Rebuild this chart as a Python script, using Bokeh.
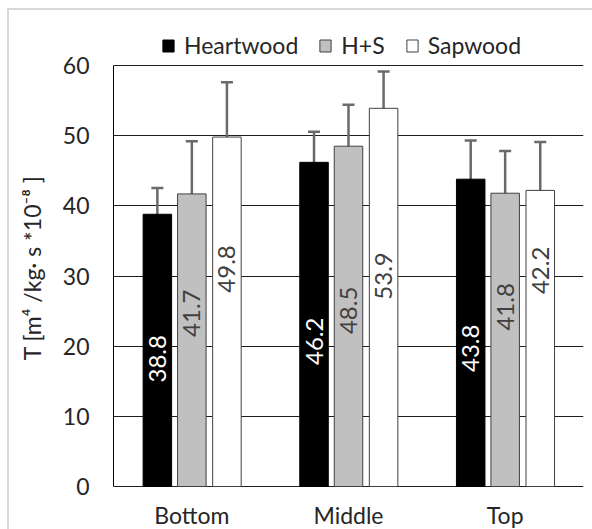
import math
from bokeh.plotting import figure
from bokeh.models import (FactorRange, Range1d, FixedTicker, Whisker, TeeHead,
                          ColumnDataSource, Legend, LegendItem)
from bokeh.transform import dodge
from bokeh.core.properties import value
from bokeh.embed import file_html
from bokeh.resources import INLINE

# ---- data ----
categories = ["Bottom", "Middle", "Top"]
series_names = ["Heartwood", "H+S", "Sapwood"]
heartwood = [38.8, 46.2, 43.8]
hs = [41.7, 48.5, 41.8]
sapwood = [49.8, 53.9, 42.2]
heartwood_err = [3.75, 4.35, 5.5]
hs_err = [7.5, 5.9, 6.0]
sapwood_err = [7.8, 5.25, 6.9]
heartwood_label_y = [18.2, 20.7, 19.7]
hs_label_y = [24.7, 25.1, 25.6]
sapwood_label_y = [31.0, 30.0, 30.8]
y_ticks = [0, 10, 20, 30, 40, 50, 60]
y_axis_title = "T [m\u2074 /kg\u00b7 s  *10\u207b\u2078 ]"

FONT = "Lato"
TXT = "#262626"

# y-range extends above 60 and below 0 so that legend and category names sit inside the frame
p = figure(width=592, height=529, output_backend="svg", toolbar_location=None,
           x_range=FactorRange(*categories, range_padding=0),
           y_range=Range1d(-6.128, 69.264),
           min_border_left=113, min_border_right=9, min_border_top=0, min_border_bottom=0)
p.outline_line_color = None
p.background_fill_color = None
p.border_fill_color = None
p.styles = {
    "background": ("linear-gradient(#d9d9d9,#d9d9d9) 7px 8px / 2px calc(100% - 8px) no-repeat, "
                   "linear-gradient(#d9d9d9,#d9d9d9) 7px 8px / calc(100% - 7px) 2px no-repeat, "
                   "#ffffff")
}

series = [
    (series_names[0], heartwood, heartwood_err, heartwood_label_y, -0.22, "black", "black", "white"),
    (series_names[1], hs, hs_err, hs_label_y, 0.0, "#c0c0c0", "#404040", "#404040"),
    (series_names[2], sapwood, sapwood_err, sapwood_label_y, 0.224, "white", "#404040", "#404040"),
]

ERR = "#6a6a6a"
items = []
for name, vals, errs, ly, off, fill, line, tcol in series:
    src = ColumnDataSource(dict(
        cat=categories, val=vals,
        upper=[v + e for v, e in zip(vals, errs)],
        lower=[v - e for v, e in zip(vals, errs)],
        ly=ly, lbl=["%.1f" % v for v in vals]))
    xs = dodge("cat", off, range=p.x_range)
    r = p.vbar(x=xs, top="val", bottom=0, width=0.182, source=src,
               fill_color=fill, line_color=line, line_width=1)
    items.append(LegendItem(label=name, renderers=[r]))
    p.add_layout(Whisker(source=src, base=xs, upper="upper", lower="lower",
                         line_color=ERR, line_width=2.5,
                         upper_head=TeeHead(size=12, line_color=ERR, line_width=2.5),
                         lower_head=TeeHead(size=12, line_color=ERR, line_width=2.5)))
    p.text(x=xs, y="ly", text="lbl", source=src, angle=math.pi / 2,
           text_align="center", text_baseline="middle",
           text_font=value(FONT), text_font_size="24px", text_color=tcol)

# category names below the zero line
cat_src = ColumnDataSource(dict(cat=categories, y=[-4.1] * len(categories)))
p.text(x="cat", y="y", text="cat", source=cat_src,
       text_align="center", text_baseline="middle",
       text_font=value(FONT), text_font_size="23px", text_color=TXT)

# axes
p.yaxis.ticker = FixedTicker(ticks=y_ticks)
p.yaxis.bounds = (0, 60)
p.yaxis.axis_label = y_axis_title
p.yaxis.axis_label_text_font = FONT
p.yaxis.axis_label_text_font_size = "23px"
p.yaxis.axis_label_text_font_style = "normal"
p.yaxis.axis_label_text_color = TXT
p.yaxis.axis_label_standoff = 14
p.yaxis.major_label_text_font = FONT
p.yaxis.major_label_text_font_size = "23px"
p.yaxis.major_label_text_color = TXT
p.yaxis.major_label_standoff = 24
p.yaxis.major_tick_out = 0
p.yaxis.major_tick_in = 0
p.yaxis.minor_tick_out = 0
p.yaxis.minor_tick_in = 0
p.yaxis.axis_line_color = "black"
p.xaxis.visible = False

p.xgrid.grid_line_color = None
p.ygrid.ticker = FixedTicker(ticks=y_ticks)
p.ygrid.grid_line_color = "#1e1e1e"
p.ygrid.grid_line_width = 1

legend = Legend(items=items, orientation="horizontal", location=(48, 470),
                label_text_font=FONT, label_text_font_size="23px", label_text_color=TXT,
                glyph_width=14, glyph_height=15, label_standoff=9, spacing=20,
                padding=6, margin=0, border_line_color=None, background_fill_color=None)
p.add_layout(legend)

open("out.html", "w").write(file_html(p, INLINE))
